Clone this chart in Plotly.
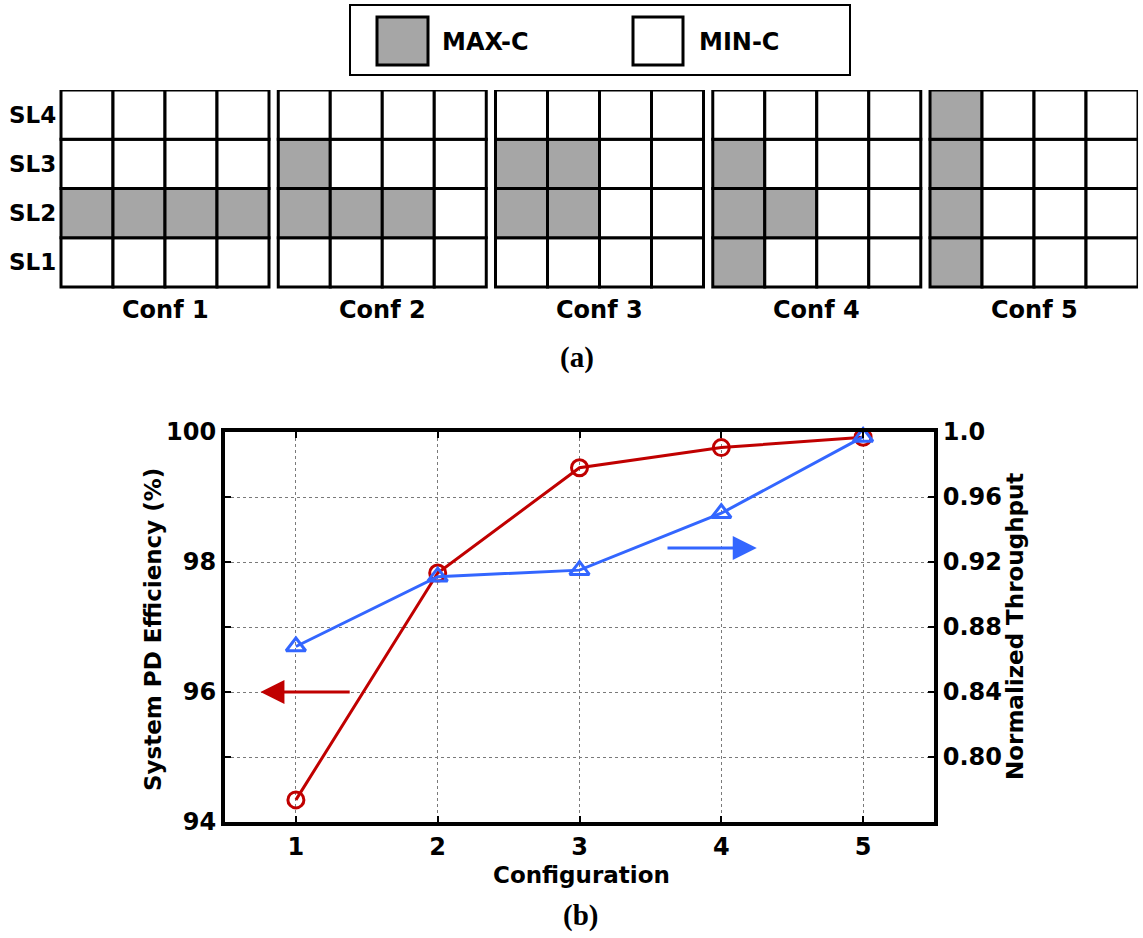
import plotly.graph_objects as go

# ---- data -------------------------------------------------------------
configurations = [1, 2, 3, 4, 5]
pd_efficiency = [94.34, 97.83, 99.45, 99.76, 99.92]          # left axis (%)
norm_throughput = [0.868, 0.911, 0.915, 0.950, 0.997]        # right axis

conf_names = ["Conf 1", "Conf 2", "Conf 3", "Conf 4", "Conf 5"]
sl_names = ["SL1", "SL2", "SL3", "SL4"]
# number of MAX-C cells (filled from the left) in each stack level, per configuration
maxc_sl1 = [0, 0, 0, 1, 1]
maxc_sl2 = [4, 3, 2, 2, 1]
maxc_sl3 = [0, 1, 2, 1, 1]
maxc_sl4 = [0, 0, 0, 0, 1]
cells_per_level = 4

eff_ticks = [94, 95, 96, 97, 98, 99, 100]
eff_ticktext = ["94", "", "96", "", "98", "", "100"]
thr_ticks = [0.80, 0.84, 0.88, 0.92, 0.96, 1.00]
thr_ticktext = ["0.80", "0.84", "0.88", "0.92", "0.96", "1.0"]

# ---- styling ----------------------------------------------------------
W, H = 1143, 938
RED = "#c00000"
BLUE = "#3366ff"
GRAY = "#a6a6a6"
FONT = "DejaVu Sans"
PANEL_GAP = 0.178          # gap between configuration panels, in cell units
CELL_W, CELL_H = 52, 49.25  # cell size in pixels
GRID_LEFT, GRID_TOP = 61, 90


def px(x):
    return x / W


def py(y):
    return 1 - y / H


fig = go.Figure()

# ---- (b) line chart ---------------------------------------------------
fig.add_trace(go.Scatter(
    x=configurations, y=norm_throughput, yaxis="y3", xaxis="x",
    mode="lines+markers", cliponaxis=False,
    line=dict(color=BLUE, width=3),
    marker=dict(symbol="triangle-up-open", size=17, color=BLUE,
                line=dict(color=BLUE, width=3)),
    showlegend=False,
))
fig.add_trace(go.Scatter(
    x=configurations, y=pd_efficiency, yaxis="y", xaxis="x",
    mode="lines+markers", cliponaxis=False,
    line=dict(color=RED, width=3),
    marker=dict(symbol="circle-open", size=16, color=RED,
                line=dict(color=RED, width=3)),
    showlegend=False,
))

tickfont = dict(family=FONT, size=24, color="black", weight="bold")
grid = dict(showgrid=True, gridcolor="#7a7a7a", gridwidth=1, griddash="dot")

shapes = []
annotations = []

# ---- (a) configuration panels -----------------------------------------
levels = [maxc_sl1, maxc_sl2, maxc_sl3, maxc_sl4]
for c in range(len(conf_names)):
    x_start = c * (cells_per_level + PANEL_GAP)
    for r, level in enumerate(levels):
        for k in range(cells_per_level):
            filled = k < level[c]
            shapes.append(dict(
                type="rect", xref="x2", yref="y2",
                x0=x_start + k, x1=x_start + k + 1, y0=r, y1=r + 1,
                fillcolor=GRAY if filled else "white",
                line=dict(color="black", width=3), layer="above",
            ))
    annotations.append(dict(
        x=x_start + cells_per_level / 2, y=-0.46, xref="x2", yref="y2",
        text=conf_names[c], showarrow=False, xanchor="center", yanchor="middle",
        font=dict(family=FONT, size=24, color="black", weight="bold"),
    ))

for r, name in enumerate(sl_names):
    annotations.append(dict(
        x=-0.06, y=r + 0.5, xref="x2", yref="y2", text=name, showarrow=False,
        xanchor="right", yanchor="middle",
        font=dict(family=FONT, size=23, color="black", weight="bold"),
    ))

# legend box
shapes.append(dict(type="rect", xref="paper", yref="paper",
                   x0=px(350), x1=px(850), y0=py(75), y1=py(5),
                   line=dict(color="black", width=2), fillcolor="white"))
shapes.append(dict(type="rect", xref="paper", yref="paper",
                   x0=px(377), x1=px(428), y0=py(65), y1=py(17),
                   line=dict(color="black", width=3), fillcolor=GRAY))
shapes.append(dict(type="rect", xref="paper", yref="paper",
                   x0=px(633), x1=px(683), y0=py(65), y1=py(17),
                   line=dict(color="black", width=3), fillcolor="white"))
for label, x in (("MAX-C", 440), ("MIN-C", 697)):
    annotations.append(dict(
        x=px(x), y=py(42), xref="paper", yref="paper", text=label,
        showarrow=False, xanchor="left", yanchor="middle",
        font=dict(family=FONT, size=24, color="black", weight="bold"),
    ))

# panel captions
annotations.append(dict(x=px(577), y=py(357), xref="paper", yref="paper",
                        text="(a)", showarrow=False,
                        xanchor="center", yanchor="middle",
                        font=dict(family="Liberation Serif", size=29,
                                  color="black", weight="bold")))
annotations.append(dict(x=px(580), y=py(915), xref="paper", yref="paper",
                        text="(b)", showarrow=False,
                        xanchor="center", yanchor="middle",
                        font=dict(family="Liberation Serif", size=29,
                                  color="black", weight="bold")))

# axis titles
annotations.append(dict(x=px(153), y=py(630), xref="paper", yref="paper",
                        text="System PD Efficiency (%)", textangle=-90,
                        showarrow=False, xanchor="center", yanchor="middle",
                        font=dict(family=FONT, size=23, color="black",
                                  weight="bold")))
annotations.append(dict(x=px(1015), y=py(627), xref="paper", yref="paper",
                        text="Normalized Throughput", textangle=-90,
                        showarrow=False, xanchor="center", yanchor="middle",
                        font=dict(family=FONT, size=23, color="black",
                                  weight="bold")))
annotations.append(dict(x=px(581), y=py(875), xref="paper", yref="paper",
                        text="Configuration", showarrow=False,
                        xanchor="center", yanchor="middle",
                        font=dict(family=FONT, size=23, color="black",
                                  weight="bold")))

# axis-pointing arrows
annotations.append(dict(x=0.75, y=96, ax=1.39, ay=96, xref="x", yref="y",
                        axref="x", ayref="y", text="", showarrow=True,
                        arrowhead=2, arrowsize=1.6, arrowwidth=3,
                        arrowcolor=RED, standoff=0, startstandoff=0))
annotations.append(dict(x=4.25, y=0.9286, ax=3.61, ay=0.9286, xref="x",
                        yref="y3", axref="x", ayref="y3", text="",
                        showarrow=True, arrowhead=2, arrowsize=1.6,
                        arrowwidth=3, arrowcolor=BLUE, standoff=0,
                        startstandoff=0))

# panel axes: ranges extended past the cells so the row/column labels fit
x2_lo = -1.1
x2_hi = 5 * cells_per_level + 4 * PANEL_GAP
y2_lo, y2_hi = -1.0, 4.0

fig.update_layout(
    width=W, height=H,
    margin=dict(l=0, r=0, t=0, b=0, autoexpand=False),
    paper_bgcolor="white", plot_bgcolor="white",
    showlegend=False,
    xaxis=dict(domain=[px(225), px(934)], range=[0.5, 5.5],
               tickvals=configurations, ticktext=[str(c) for c in configurations],
               ticks="inside", ticklen=6, tickwidth=2, tickcolor="black",
               showline=True, linecolor="black", linewidth=4, mirror="ticks",
               zeroline=False, tickfont=tickfont, ticklabelstandoff=0,
               automargin=False, anchor="y", **grid),
    yaxis=dict(domain=[py(822), py(432)], range=[94, 100],
               tickvals=eff_ticks, ticktext=eff_ticktext,
               ticks="inside", ticklen=6, tickwidth=2, tickcolor="black",
               showline=True, linecolor="black", linewidth=4, mirror=True,
               zeroline=False, tickfont=tickfont, automargin=False,
               anchor="x", **grid),
    yaxis3=dict(range=[0.76, 1.0], overlaying="y", side="right", anchor="x",
                tickvals=thr_ticks, ticktext=thr_ticktext,
                ticks="inside", ticklen=6, tickwidth=2, tickcolor="black",
                showline=True, linecolor="black", linewidth=4,
                showgrid=False, zeroline=False, tickfont=tickfont,
                automargin=False),
    xaxis2=dict(domain=[px(GRID_LEFT + x2_lo * CELL_W),
                        px(GRID_LEFT + x2_hi * CELL_W)],
                range=[x2_lo, x2_hi], visible=False, automargin=False,
                anchor="y2"),
    yaxis2=dict(domain=[py(GRID_TOP + (4 - y2_lo) * CELL_H), py(GRID_TOP)],
                range=[y2_lo, y2_hi], visible=False, automargin=False,
                anchor="x2"),
    shapes=shapes,
    annotations=annotations,
)

fig.write_html("out.html")
